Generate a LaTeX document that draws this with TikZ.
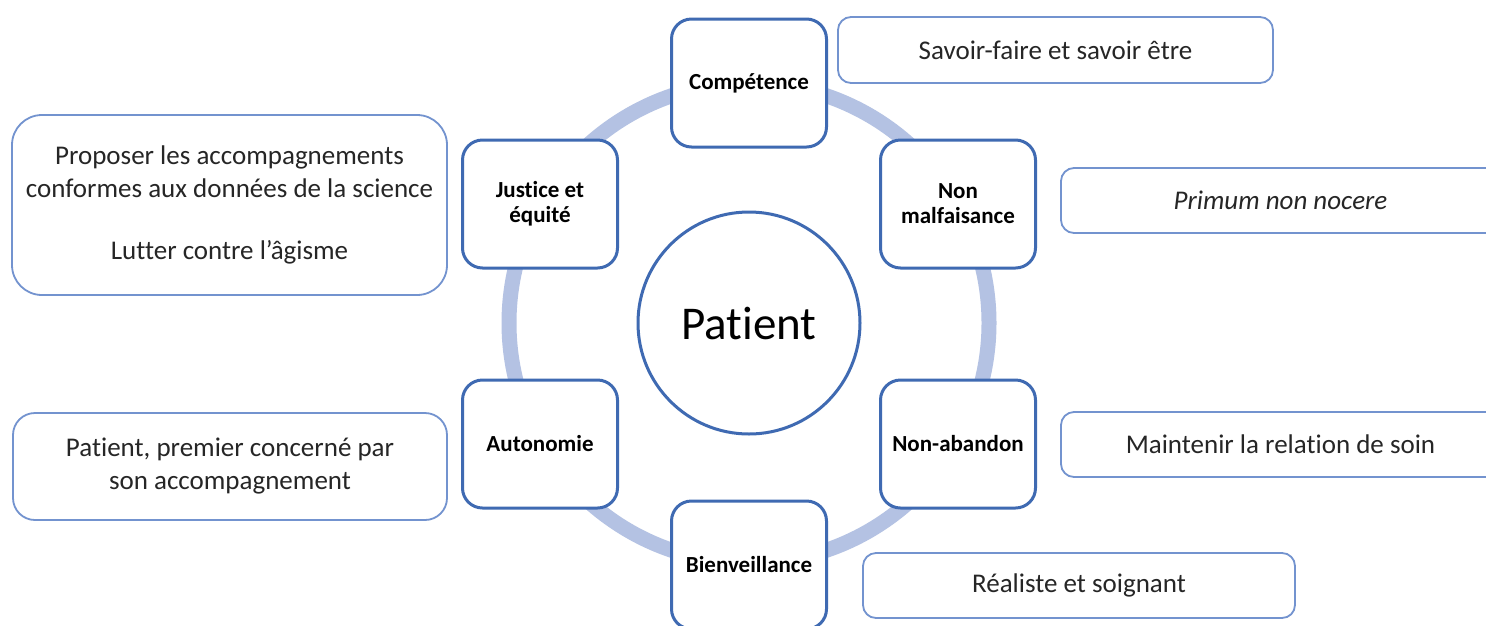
\documentclass[tikz,border=0pt]{standalone}
\usepackage{fontspec}
\setmainfont{Carlito}[Ligatures=CommonOff]
\definecolor{ringblue}{HTML}{B4C2E3}
\definecolor{boxblue}{HTML}{3F6AB2}
\definecolor{sideblue}{HTML}{7393CF}
\definecolor{txt}{HTML}{262626}
\begin{document}
\begin{tikzpicture}[x=1pt,y=-1pt,
  value/.style={draw=boxblue, line width=3pt, fill=white, rounded corners=20pt,
    minimum width=155pt, minimum height=128pt, inner sep=0pt, align=center,
    font=\fontsize{23}{25}\selectfont\bfseries, text=black},
  note/.style={draw=sideblue, line width=1.8pt, fill=white, rounded corners=13pt,
    inner sep=0pt, align=center, font=\fontsize{27}{33}\selectfont, text=txt}]

\useasboundingbox (0,0) rectangle (1486,625);
\clip (0,0) rectangle (1486,625);
\fill[white] (0,0) rectangle (1486,625);

% centre
\node[circle, draw=boxblue, line width=3pt, fill=white, minimum size=222pt, inner sep=0pt,
  font=\fontsize{47}{50}\selectfont, text=black] (patient) at (749,323) {Patient};

% ring linking the six values
\draw[ringblue, line width=15pt] (patient.center) circle[radius=240pt];

% values
\node[value] (comp)   at (749,83)  {Compétence};
\node[value] (nonmal) at (958,204) {Non\\malfaisance};
\node[value] (nonab)  at (958,444) {Non-abandon};
\node[value] (bien)   at (749,565) {Bienveillance};
\node[value] (auto)   at (540,444) {Autonomie};
\node[value] (just)   at (540,204) {Justice et\\équité};

% explanations
\node[note, minimum width=435pt, minimum height=66pt] (savoir) at (1055.5,50)
  {Savoir-faire et savoir être};
\node[note, minimum width=439pt, minimum height=65pt] (primum) at (1280.5,200.5)
  {\itshape Primum non nocere};
\node[note, minimum width=439pt, minimum height=65pt] (maint) at (1280.5,444.5)
  {Maintenir la relation de soin};
\node[note, minimum width=432pt, minimum height=65pt] (real) at (1079,585.5)
  {Réaliste et soignant};
\node[note, rounded corners=30pt, minimum width=435pt, minimum height=180pt] (prop) at (229.5,205)
  {Proposer les accompagnements\\conformes aux données de la science\\[29pt]Lutter contre l’âgisme};
\node[note, rounded corners=22pt, minimum width=434pt, minimum height=107pt] (pat1) at (230,466.5)
  {Patient, premier concerné par\\son accompagnement};
\end{tikzpicture}
\end{document}
